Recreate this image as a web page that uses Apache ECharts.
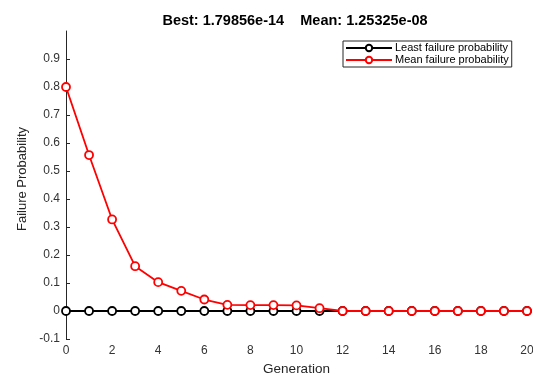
<!DOCTYPE html>
<html><head><meta charset="utf-8">
<script src="https://cdn.jsdelivr.net/npm/echarts@6/dist/echarts.min.js"></script>
<style>html,body{margin:0;padding:0;background:#fff}#c{width:533px;height:378px}</style>
</head><body><div id="c"></div>
<script>
const generations = [0,1,2,3,4,5,6,7,8,9,10,11,12,13,14,15,16,17,18,19,20];
const leastFailure = [0,0,0,0,0,0,0,0,0,0,0,0,0,0,0,0,0,0,0,0,0];
const meanFailure = [0.80,0.557,0.327,0.160,0.103,0.072,0.041,0.022,0.021,0.021,0.020,0.010,0,0,0,0,0,0,0,0,0];
const titleText = 'Best: 1.79856e-14    Mean: 1.25325e-08';

const font = 'Liberation Sans, Arial, sans-serif';
const chart = echarts.init(document.getElementById('c'), null, {renderer:'canvas'});
const axisColor = '#262626';
chart.setOption({
  backgroundColor:'#fff',
  animation:false,
  title:{text:titleText,left:290,textAlign:'center',top:8,
    textStyle:{fontFamily:font,fontSize:14.5,fontWeight:'bold',color:'#000'}},
  legend:{
    orient:'vertical',left:343,top:41,
    backgroundColor:'#fff',borderColor:'#262626',borderWidth:1,
    padding:[1,3,1,2],itemGap:0,itemWidth:46,itemHeight:8,
    textStyle:{fontFamily:font,fontSize:11,lineHeight:12,color:'#000',padding:[0,0,0,-2]},
    data:['Least failure probability','Mean failure probability']
  },
  grid:{left:66,right:6,top:31,bottom:39,containLabel:false,outerBoundsMode:'none'},
  xAxis:{type:'value',min:0,max:20,interval:2,
    name:'Generation',nameLocation:'middle',nameGap:23,
    nameTextStyle:{fontFamily:font,fontSize:13.5,color:'#262626'},
    axisLine:{lineStyle:{color:axisColor,width:1}},
    axisTick:{inside:true,length:4,lineStyle:{color:axisColor}},
    axisLabel:{fontFamily:font,fontSize:12,color:'#333',margin:6},
    splitLine:{show:false}},
  yAxis:{type:'value',min:-0.1,max:1,interval:0.1,
    name:'Failure Probability',nameLocation:'middle',nameGap:37,
    nameTextStyle:{fontFamily:font,fontSize:13,color:'#262626',padding:[0,0,0,12]},
    axisLine:{show:true,lineStyle:{color:axisColor,width:1}},
    axisTick:{show:true,inside:true,length:4,lineStyle:{color:axisColor}},
    axisLabel:{fontFamily:font,fontSize:12,color:'#333',margin:6,showMaxLabel:false,
      formatter:v=>{const r=Math.round(v*10)/10;return r===0?'0':String(r);}},
    splitLine:{show:false}},
  series:[
    {name:'Least failure probability',type:'line',z:2,
     data:generations.map((g,i)=>[g,leastFailure[i]]),
     symbol:'circle',symbolSize:8,
     itemStyle:{color:'#fff',borderColor:'#000',borderWidth:1.8},
     lineStyle:{color:'#000',width:1.8}},
    {name:'Mean failure probability',type:'line',z:3,
     data:generations.map((g,i)=>[g,meanFailure[i]]),
     symbol:'circle',symbolSize:8,
     itemStyle:{color:'#fff',borderColor:'#ff0000',borderWidth:1.8},
     lineStyle:{color:'#ff0000',width:1.8}}
  ]
});
</script></body></html>
